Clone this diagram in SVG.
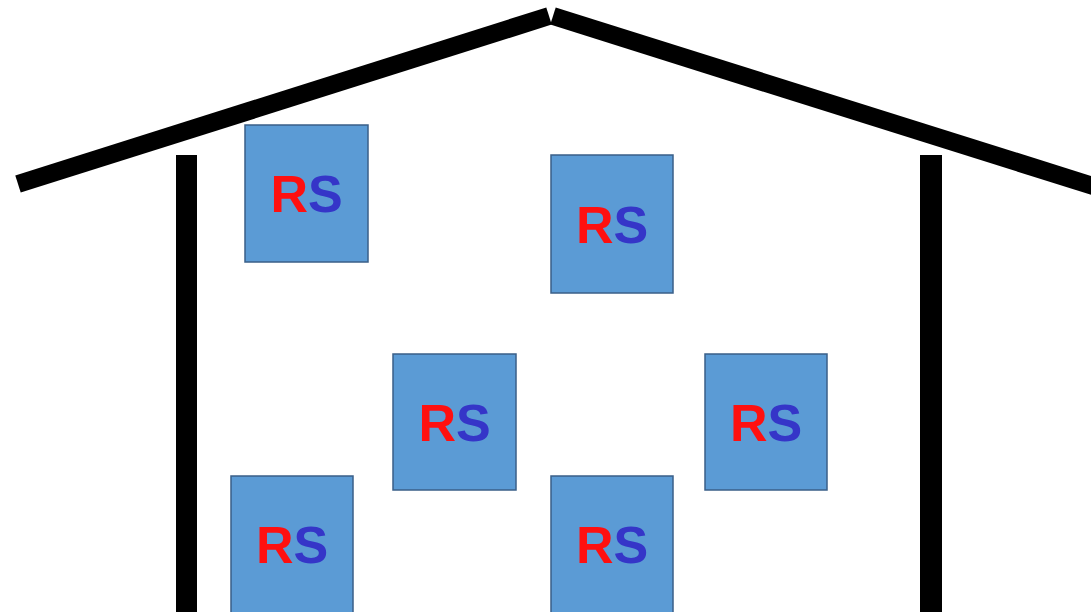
<svg xmlns="http://www.w3.org/2000/svg" width="1091" height="612" viewBox="0 0 1091 612">
<style>
.box{fill:#5b9bd5;stroke:#3a5f88;stroke-width:1.5}
.t{font-family:"Liberation Sans",Arial,sans-serif;font-weight:bold;font-size:52px;text-anchor:middle}
.r{fill:#ff1010}
.s{fill:#3535c8}
.wall{fill:#000}
.roof{stroke:#000;stroke-width:18;fill:none}
</style>
<rect width="1091" height="612" fill="#fff"/>
<g id="house">
<line class="roof" x1="18" y1="184" x2="549" y2="16"/>
<line class="roof" x1="553" y1="16" x2="1096" y2="187"/>
<rect class="wall" x="176" y="155" width="21" height="457"/>
<rect class="wall" x="920" y="155" width="22" height="457"/>
</g>
<g id="rs1"><rect class="box" x="245" y="125" width="123" height="137"/><text class="t" x="306.5" y="212"><tspan class="r">R</tspan><tspan class="s">S</tspan></text></g>
<g id="rs2"><rect class="box" x="551" y="155" width="122" height="138"/><text class="t" x="612" y="243"><tspan class="r">R</tspan><tspan class="s">S</tspan></text></g>
<g id="rs3"><rect class="box" x="393" y="354" width="123" height="136"/><text class="t" x="454.5" y="441"><tspan class="r">R</tspan><tspan class="s">S</tspan></text></g>
<g id="rs4"><rect class="box" x="705" y="354" width="122" height="136"/><text class="t" x="766" y="441"><tspan class="r">R</tspan><tspan class="s">S</tspan></text></g>
<g id="rs5"><rect class="box" x="231" y="476" width="122" height="140"/><text class="t" x="292" y="563"><tspan class="r">R</tspan><tspan class="s">S</tspan></text></g>
<g id="rs6"><rect class="box" x="551" y="476" width="122" height="140"/><text class="t" x="612" y="563"><tspan class="r">R</tspan><tspan class="s">S</tspan></text></g>
</svg>
